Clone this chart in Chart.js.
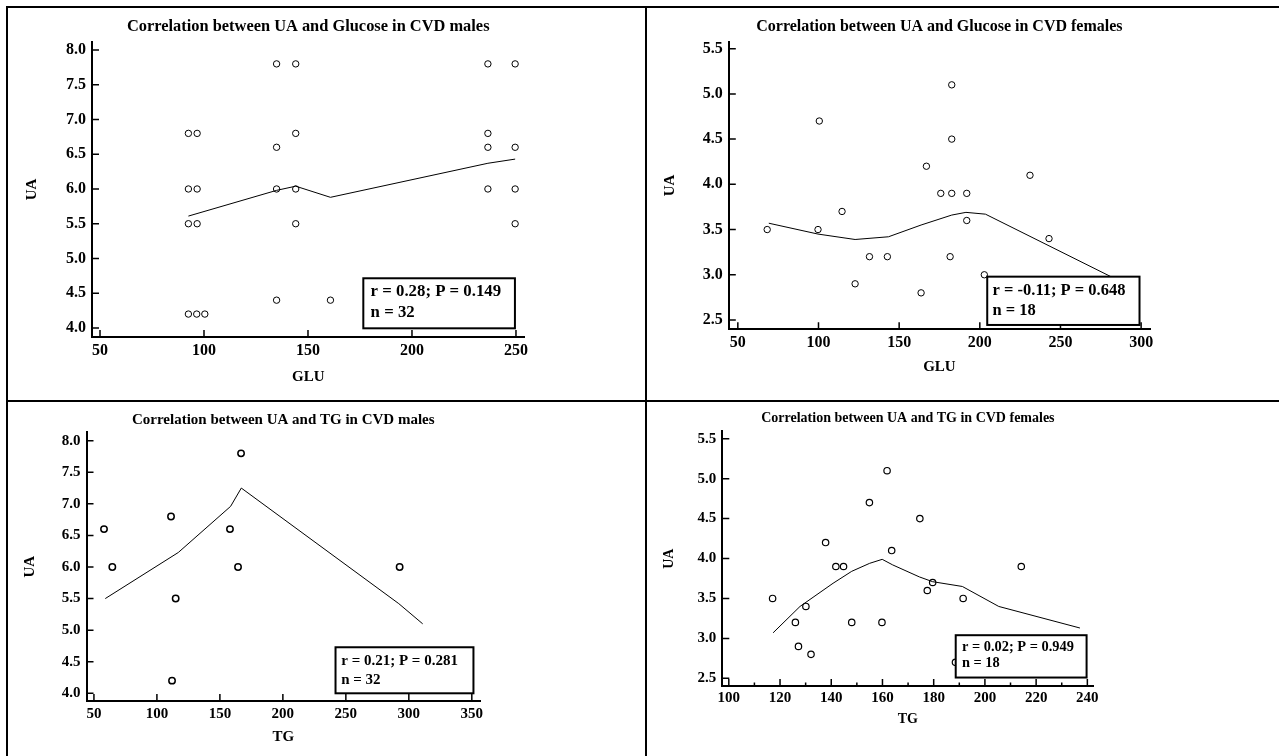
<!DOCTYPE html>
<html>
<head>
<meta charset="utf-8">
<title>UA correlations in CVD patients</title>
<script src="https://cdn.jsdelivr.net/npm/chart.js@4.4.1/dist/chart.umd.min.js"></script>
<style>
  body { margin: 0; background: #fff; }
  #page { position: relative; width: 1279px; height: 756px; overflow: hidden; }
  .rule { position: absolute; background: #000; }
  canvas { position: absolute; }
</style>
</head>
<body>
<div id="page">
  <div class="rule" style="left:6px;top:6px;width:1273px;height:2px"></div>
  <div class="rule" style="left:6px;top:6px;width:2px;height:750px"></div>
  <div class="rule" style="left:645px;top:6px;width:2px;height:750px"></div>
  <div class="rule" style="left:6px;top:400px;width:1273px;height:2px"></div>
  <canvas id="gluMale" width="636" height="392" style="left:8px;top:8px"></canvas>
  <canvas id="gluFemale" width="632" height="392" style="left:647px;top:8px"></canvas>
  <canvas id="tgMale" width="636" height="354" style="left:8px;top:402px"></canvas>
  <canvas id="tgFemale" width="632" height="354" style="left:647px;top:402px"></canvas>
</div>
<script>
// UA vs glucose, males
var gluMaleX  = [92.5, 96.7, 92.5, 96.7, 92.5, 96.7, 92.5, 96.5, 100.4, 134.9, 134.9, 134.9, 134.9, 144.1, 144.1, 144.1, 144.1, 160.8, 236.5, 236.5, 236.5, 236.5, 249.6, 249.6, 249.6, 249.6];
var gluMaleUA = [6.8, 6.8, 6.0, 6.0, 5.5, 5.5, 4.2, 4.2, 4.2, 7.8, 6.6, 6.0, 4.4, 7.8, 6.8, 6.0, 5.5, 4.4, 7.8, 6.8, 6.6, 6.0, 7.8, 6.6, 6.0, 5.5];
var gluMaleFitX = [92.5, 134.9, 144.1, 160.8, 236.5, 249.6];
var gluMaleFitY = [5.61, 5.98, 6.04, 5.88, 6.37, 6.43];
var gluMaleStats = ['r = 0.28; P = 0.149', 'n = 32'];

// UA vs glucose, females
var gluFemX  = [68.2, 99.7, 100.5, 114.6, 122.7, 131.6, 142.7, 163.6, 166.9, 175.8, 182.6, 182.6, 182.6, 181.6, 191.9, 191.9, 202.8, 231.1, 242.9];
var gluFemUA = [3.5, 3.5, 4.7, 3.7, 2.9, 3.2, 3.2, 2.8, 4.2, 3.9, 3.9, 5.1, 4.5, 3.2, 3.9, 3.6, 3.0, 4.1, 3.4];
var gluFemFitX = [69.2, 99.7, 122.7, 143.4, 163.6, 182.6, 191.4, 203.5, 242.9, 282.3];
var gluFemFitY = [3.57, 3.45, 3.39, 3.42, 3.55, 3.66, 3.69, 3.67, 3.32, 2.97];
var gluFemStats = ['r = -0.11; P = 0.648', 'n = 18'];

// UA vs TG, males
var tgMaleX  = [58.0, 64.6, 111.2, 114.9, 112.0, 158.0, 164.4, 166.8, 292.7];
var tgMaleUA = [6.6, 6.0, 6.8, 5.5, 4.2, 6.6, 6.0, 7.8, 6.0];
var tgMaleFitX = [59, 117, 158.5, 167, 292, 311];
var tgMaleFitY = [5.5, 6.23, 6.96, 7.25, 5.42, 5.1];
var tgMaleStats = ['r = 0.21; P = 0.281', 'n = 32'];

// UA vs TG, females
var tgFemX  = [117.1, 126.0, 127.2, 130.1, 132.1, 137.8, 141.8, 144.8, 148.0, 154.9, 159.8, 161.8, 163.6, 174.6, 177.5, 179.6, 188.5, 191.5, 214.2];
var tgFemUA = [3.5, 3.2, 2.9, 3.4, 2.8, 4.2, 3.9, 3.9, 3.2, 4.7, 3.2, 5.1, 4.1, 4.5, 3.6, 3.7, 2.7, 3.5, 3.9];
var tgFemFitX = [117.3, 127.8, 140.7, 148, 155, 159.9, 164, 174.4, 179.6, 191.2, 205.4, 237.1];
var tgFemFitY = [3.07, 3.40, 3.69, 3.84, 3.94, 3.99, 3.92, 3.77, 3.71, 3.65, 3.40, 3.13];
var tgFemStats = ['r = 0.02; P = 0.949', 'n = 18'];

// tick labels
var gluTicksM = [50, 100, 150, 200, 250];
var gluTicksF = [50, 100, 150, 200, 250, 300];
var tgTicksM  = [50, 100, 150, 200, 250, 300, 350];
var tgTicksF  = [100, 120, 140, 160, 180, 200, 220, 240];
var tgMinorF  = [110, 130, 150, 170, 190, 210, 230];
var uaTicksM  = [4.0, 4.5, 5.0, 5.5, 6.0, 6.5, 7.0, 7.5, 8.0];
var uaTicksF  = [2.5, 3.0, 3.5, 4.0, 4.5, 5.0, 5.5];

var SERIF = '"Liberation Serif", "Times New Roman", serif';

function pts(xs, ys) {
  return xs.map(function(x, i) { return { x: x, y: ys[i] }; });
}

function fixedTicks(list) {
  return function(scale) {
    scale.ticks = list.map(function(v) { return { value: v }; });
  };
}

// title, inward tick marks and the r/P box
var panelDecor = {
  id: 'panelDecor',
  afterDraw: function(chart, args, o) {
    var ctx = chart.ctx, ca = chart.chartArea;
    var xs = chart.scales.x, ys = chart.scales.y;
    ctx.save();
    ctx.fillStyle = '#000';
    ctx.font = 'bold ' + o.titleSize + 'px ' + SERIF;
    ctx.textAlign = 'center';
    ctx.textBaseline = 'middle';
    ctx.fillText(o.title, (ca.left + ca.right) / 2, ca.top - o.titleGap);

    ctx.strokeStyle = '#000';
    ctx.lineWidth = 1.5;
    ctx.beginPath();
    ys.ticks.forEach(function(t) {
      var py = ys.getPixelForValue(t.value);
      ctx.moveTo(ca.left, py);
      ctx.lineTo(ca.left + o.tickLen, py);
    });
    xs.ticks.forEach(function(t) {
      var px = xs.getPixelForValue(t.value);
      ctx.moveTo(px, ca.bottom);
      ctx.lineTo(px, ca.bottom - o.tickLen);
    });
    (o.minorX || []).forEach(function(v) {
      var px = xs.getPixelForValue(v);
      ctx.moveTo(px, ca.bottom);
      ctx.lineTo(px, ca.bottom - o.tickLen / 2);
    });
    ctx.stroke();

    var b = o.box;
    var x1 = xs.getPixelForValue(b.x1), x2 = xs.getPixelForValue(b.x2);
    var y1 = ys.getPixelForValue(b.y1), y2 = ys.getPixelForValue(b.y2);
    ctx.fillStyle = '#fff';
    ctx.fillRect(x1, y1, x2 - x1, y2 - y1);
    ctx.lineWidth = 2;
    ctx.strokeRect(x1, y1, x2 - x1, y2 - y1);
    ctx.fillStyle = '#000';
    ctx.textAlign = 'left';
    ctx.font = 'bold ' + b.size + 'px ' + SERIF;
    b.lines.forEach(function(s, i) {
      ctx.fillText(s, x1 + b.padX, y1 + b.firstY + i * b.gap);
    });
    ctx.restore();
  }
};

function makePanel(p) {
  var cv = document.getElementById(p.id);
  var left = parseFloat(cv.style.left), top = parseFloat(cv.style.top);
  var a = p.area;
  var lh = p.axisFont * 1.2;
  var yW = a.l - (p.uaX - lh / 2);
  var xH = (p.xTitleY + lh / 2) - a.b;
  var pad = {
    left: a.l - left - yW,
    top: a.t - top,
    right: left + cv.width - a.r,
    bottom: top + cv.height - a.b - xH
  };
  var tickFont = { family: SERIF, size: p.tickFont, weight: 'bold' };
  var axisFont = { family: SERIF, size: p.axisFont, weight: 'bold' };

  return new Chart(cv, {
    type: 'scatter',
    data: {
      datasets: [
        {
          data: pts(p.xs, p.ys),
          pointStyle: 'circle',
          pointRadius: 3.2,
          pointBorderWidth: p.ptWidth,
          borderColor: '#000',
          backgroundColor: 'rgba(0,0,0,0)'
        },
        {
          data: pts(p.fx, p.fy),
          showLine: true,
          borderColor: '#000',
          borderWidth: 1,
          pointRadius: 0,
          tension: 0,
          fill: false
        }
      ]
    },
    options: {
      responsive: false,
      animation: false,
      layout: { padding: pad },
      plugins: {
        legend: { display: false },
        tooltip: { enabled: false },
        panelDecor: {
          title: p.title, titleSize: p.titleSize, titleGap: p.titleGap,
          tickLen: 7, minorX: p.minorX, box: p.box
        }
      },
      scales: {
        x: {
          type: 'linear', position: 'bottom',
          min: p.xMin, max: p.xMax,
          afterBuildTicks: fixedTicks(p.xTicks),
          afterFit: function(s) { s.height = xH; },
          grid: { display: false, drawTicks: false },
          border: { display: true, color: '#000', width: 2 },
          ticks: {
            autoSkip: false, maxRotation: 0, padding: p.xPad, color: '#000', font: tickFont,
            callback: function(v) { return String(v); }
          },
          title: { display: true, text: p.xTitle, padding: 0, color: '#000', font: axisFont }
        },
        y: {
          type: 'linear', position: 'left',
          min: p.yMin, max: p.yMax,
          afterBuildTicks: fixedTicks(p.yTicks),
          afterFit: function(s) { s.width = yW; },
          grid: { display: false, drawTicks: false },
          border: { display: true, color: '#000', width: 2 },
          ticks: {
            autoSkip: false, padding: 6, color: '#000', font: tickFont,
            callback: function(v) { return v.toFixed(1); }
          },
          title: { display: true, text: 'UA', padding: 0, color: '#000', font: axisFont }
        }
      }
    },
    plugins: [panelDecor]
  });
}

makePanel({
  id: 'gluMale', title: 'Correlation between UA and Glucose in CVD males',
  titleSize: 16.4, titleGap: 15.3, tickFont: 16, axisFont: 15, ptWidth: 1,
  area: { l: 92, r: 524.5, t: 42, b: 337 }, uaX: 31.8, xTitleY: 377, xPad: 4,
  xs: gluMaleX, ys: gluMaleUA, fx: gluMaleFitX, fy: gluMaleFitY,
  xMin: 46.15, xMax: 254.1, yMin: 3.87, yMax: 8.115,
  xTicks: gluTicksM, yTicks: uaTicksM, xTitle: 'GLU',
  box: { x1: 176.6, y1: 4.715, x2: 249.5, y2: 3.995, size: 16.8, padX: 7.3, firstY: 13.7, gap: 21, lines: gluMaleStats }
});

makePanel({
  id: 'gluFemale', title: 'Correlation between UA and Glucose in CVD females',
  titleSize: 16, titleGap: 15, tickFont: 16, axisFont: 15, ptWidth: 1,
  area: { l: 728.8, r: 1150, t: 41.7, b: 329.3 }, uaX: 670.6, xTitleY: 366.7, xPad: 4,
  xs: gluFemX, ys: gluFemUA, fx: gluFemFitX, fy: gluFemFitY,
  xMin: 44.4, xMax: 305.5, yMin: 2.397, yMax: 5.577,
  xTicks: gluTicksF, yTicks: uaTicksF, xTitle: 'GLU',
  box: { x1: 204.6, y1: 2.979, x2: 299, y2: 2.445, size: 16.5, padX: 5.3, firstY: 14.3, gap: 19.3, lines: gluFemStats }
});

makePanel({
  id: 'tgMale', title: 'Correlation between UA and TG in CVD males',
  titleSize: 15, titleGap: 12.6, tickFont: 15, axisFont: 15, ptWidth: 1.5,
  area: { l: 86.5, r: 480, t: 432.3, b: 701 }, uaX: 30.6, xTitleY: 737, xPad: 4,
  xs: tgMaleX, ys: tgMaleUA, fx: tgMaleFitX, fy: tgMaleFitY,
  xMin: 44.1, xMax: 356.5, yMin: 3.878, yMax: 8.133,
  xTicks: tgTicksM, yTicks: uaTicksM, xTitle: 'TG',
  box: { x1: 241.8, y1: 4.729, x2: 351.3, y2: 4.0, size: 15, padX: 5.7, firstY: 13.4, gap: 19, lines: tgMaleStats }
});

makePanel({
  id: 'tgFemale', title: 'Correlation between UA and TG in CVD females',
  titleSize: 14, titleGap: 12.6, tickFont: 15, axisFont: 14, ptWidth: 1.2,
  area: { l: 722.3, r: 1093.5, t: 431.3, b: 686 }, uaX: 669, xTitleY: 719.7, xPad: 3,
  xs: tgFemX, ys: tgFemUA, fx: tgFemFitX, fy: tgFemFitY,
  xMin: 97.46, xMax: 242.4, yMin: 2.404, yMax: 5.593,
  xTicks: tgTicksF, yTicks: uaTicksF, xTitle: 'TG', minorX: tgMinorF,
  box: { x1: 188.6, y1: 3.04, x2: 239.7, y2: 2.51, size: 14.4, padX: 6.2, firstY: 11.6, gap: 16.7, lines: tgFemStats }
});
</script>
</body>
</html>
